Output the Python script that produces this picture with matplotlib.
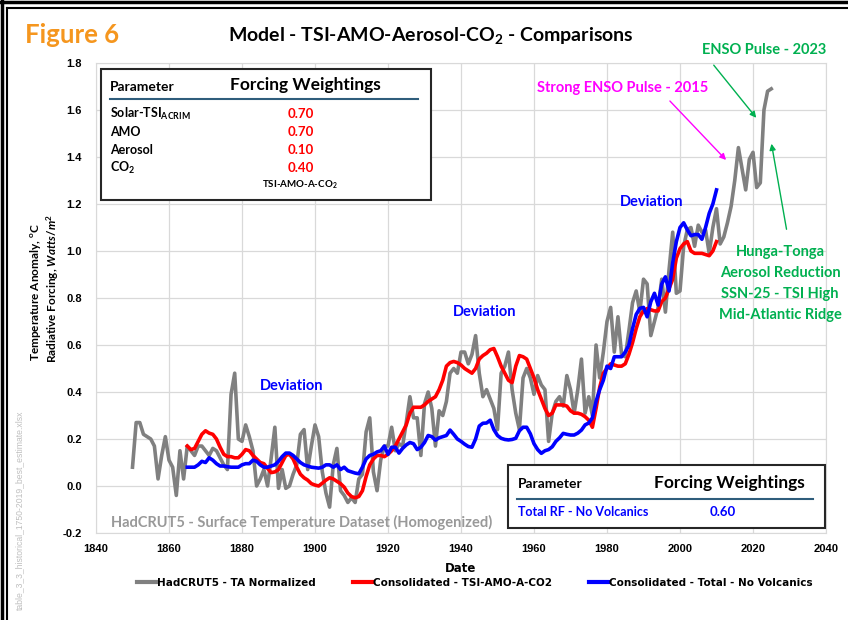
import numpy as np
import matplotlib.pyplot as plt
from matplotlib.patches import Rectangle, FancyArrowPatch
from matplotlib.lines import Line2D

plt.rcParams['mathtext.fontset'] = 'custom'
plt.rcParams['mathtext.rm'] = 'Lato:bold'
plt.rcParams['mathtext.bf'] = 'Lato:bold'
plt.rcParams['mathtext.it'] = 'Lato:bold:italic'

# HadCRUT5 - TA normalized, 1850-2025
hadcrut = [
    0.08, 0.27, 0.27, 0.22, 0.21, 0.20, 0.17, 0.03, 0.13, 0.21,
    0.11, 0.08, -0.04, 0.15, 0.03, 0.17, 0.15, 0.13, 0.17, 0.17,
    0.15, 0.13, 0.16, 0.15, 0.12, 0.09, 0.07, 0.39, 0.48, 0.20,
    0.19, 0.26, 0.21, 0.15, 0.00, 0.03, 0.07, 0.00, 0.12, 0.25,
    -0.01, 0.07, -0.01, 0.00, 0.05, 0.09, 0.22, 0.24, 0.07, 0.17,
    0.26, 0.21, 0.06, -0.03, -0.09, 0.09, 0.16, -0.02, -0.04, -0.07,
    -0.05, -0.07, 0.03, 0.05, 0.23, 0.29, 0.06, -0.02, 0.11, 0.17,
    0.17, 0.25, 0.15, 0.18, 0.17, 0.27, 0.38, 0.29, 0.29, 0.13,
    0.35, 0.40, 0.33, 0.17, 0.32, 0.30, 0.36, 0.48, 0.50, 0.48,
    0.57, 0.57, 0.52, 0.56, 0.64, 0.48, 0.38, 0.41, 0.37, 0.33,
    0.24, 0.48, 0.51, 0.57, 0.41, 0.31, 0.24, 0.46, 0.50, 0.46,
    0.39, 0.47, 0.43, 0.41, 0.19, 0.31, 0.36, 0.38, 0.34, 0.47,
    0.41, 0.31, 0.41, 0.54, 0.31, 0.38, 0.30, 0.60, 0.46, 0.57,
    0.70, 0.76, 0.57, 0.72, 0.56, 0.55, 0.66, 0.78, 0.83, 0.74,
    0.88, 0.86, 0.64, 0.70, 0.76, 0.88, 0.74, 0.92, 1.08, 0.82,
    0.83, 1.02, 1.09, 1.10, 1.02, 1.11, 1.08, 1.09, 0.99, 1.10,
    1.18, 1.03, 1.06, 1.12, 1.19, 1.30, 1.44, 1.35, 1.26, 1.39,
    1.42, 1.27, 1.29, 1.60, 1.68, 1.69,
]
hadcrut_years = np.arange(1850, 1850 + len(hadcrut))

# Consolidated - TSI-AMO-A-CO2, 1865-2010
tsi_amo = [
    0.17, 0.155, 0.16, 0.19, 0.22,
    0.235, 0.225, 0.22, 0.20, 0.165, 0.135, 0.125, 0.125, 0.12, 0.12,
    0.135, 0.155, 0.15, 0.13, 0.115, 0.10, 0.095, 0.075, 0.057, 0.06,
    0.07, 0.10, 0.13, 0.135, 0.115, 0.08, 0.05, 0.035, 0.025, 0.01,
    0.004, 0.0, 0.012, 0.025, 0.035, 0.03, 0.02, 0.01, -0.005, -0.03,
    -0.045, -0.05, -0.045, -0.02, 0.04, 0.09, 0.115, 0.13, 0.13, 0.125,
    0.135, 0.15, 0.17, 0.20, 0.23, 0.26, 0.31, 0.335, 0.335, 0.335,
    0.345, 0.36, 0.37, 0.38, 0.41, 0.45, 0.51, 0.525, 0.53, 0.525,
    0.515, 0.50, 0.49, 0.48, 0.50, 0.54, 0.555, 0.565, 0.58, 0.585,
    0.55, 0.51, 0.48, 0.45, 0.44, 0.51, 0.555, 0.55, 0.54, 0.50,
    0.46, 0.41, 0.37, 0.33, 0.30, 0.31, 0.345, 0.345, 0.345, 0.34,
    0.32, 0.31, 0.31, 0.305, 0.295, 0.28, 0.25, 0.33, 0.42, 0.48,
    0.50, 0.52, 0.515, 0.51, 0.51, 0.52, 0.56, 0.61, 0.67, 0.72,
    0.745, 0.755, 0.75, 0.745, 0.745, 0.785, 0.80, 0.84, 0.88, 0.97,
    1.01, 1.03, 1.04, 1.00, 0.99, 0.99, 0.99, 0.985, 0.98, 1.00,
    1.04,
]

# Consolidated - Total - No Volcanics, 1865-2010
total_rf = [
    0.08, 0.08, 0.08, 0.09, 0.105,
    0.10, 0.12, 0.11, 0.095, 0.085, 0.085, 0.082, 0.08, 0.08, 0.08,
    0.09, 0.095, 0.095, 0.11, 0.105, 0.09, 0.08, 0.08, 0.085, 0.09,
    0.105, 0.125, 0.14, 0.14, 0.13, 0.115, 0.10, 0.09, 0.085, 0.08,
    0.078, 0.076, 0.08, 0.09, 0.09, 0.08, 0.09, 0.07, 0.08, 0.065,
    0.06, 0.055, 0.052, 0.08, 0.115, 0.13, 0.135, 0.145, 0.15, 0.17,
    0.135, 0.165, 0.165, 0.14, 0.16, 0.175, 0.185, 0.18, 0.155, 0.165,
    0.185, 0.215, 0.21, 0.195, 0.205, 0.21, 0.215, 0.238, 0.22, 0.20,
    0.19, 0.178, 0.168, 0.165, 0.20, 0.255, 0.267, 0.268, 0.28, 0.24,
    0.215, 0.203, 0.198, 0.196, 0.198, 0.203, 0.235, 0.25, 0.25, 0.222,
    0.18, 0.155, 0.139, 0.15, 0.155, 0.167, 0.19, 0.205, 0.224, 0.22,
    0.217, 0.217, 0.225, 0.238, 0.26, 0.268, 0.29, 0.36, 0.41, 0.45,
    0.51, 0.50, 0.55, 0.55, 0.55, 0.57, 0.60, 0.67, 0.73, 0.756,
    0.76, 0.72, 0.784, 0.82, 0.77, 0.86, 0.89, 0.83, 0.95, 1.04,
    1.10, 1.12, 1.09, 1.065, 1.07, 1.07, 1.05, 1.10, 1.16, 1.20,
    1.26,
]
model_years = np.arange(1865, 1865 + len(tsi_amo))

series_labels = ['HadCRUT5 - TA Normalized', 'Consolidated - TSI-AMO-A-CO2',
                 'Consolidated - Total - No Volcanics']
params_top = ['Solar-TSI$_{\\mathrm{ACRIM}}$', 'AMO', 'Aerosol', 'CO$_{\\mathrm{2}}$']
weights_top = ['0.70', '0.70', '0.10', '0.40']

W, H = 848, 620
fig = plt.figure(figsize=(W / 100, H / 100), dpi=100)


def fx(x):
    return x / W


def fy(y):
    return 1 - y / H


def txt(x, y, s, **kw):
    kw.setdefault('family', 'Lato')
    kw.setdefault('fontweight', 'bold')
    kw.setdefault('va', 'center')
    return fig.text(fx(x), fy(y), s, **kw)


ax = fig.add_axes([fx(96), fy(533), 730 / W, 470 / H])
ax.plot(hadcrut_years, hadcrut, color='#808080', lw=2.6, zorder=2)
ax.plot(model_years, tsi_amo, color='#FF0000', lw=2.6, zorder=3)
ax.plot(model_years, total_rf, color='#0000FF', lw=2.6, zorder=4)

ax.set_xlim(1840, 2040)
ax.set_ylim(-0.2, 1.8)
ax.set_xticks(range(1840, 2041, 20))
ax.set_yticks(np.arange(-0.2, 1.81, 0.2))
ax.set_yticklabels(['%.1f' % v for v in np.arange(-0.2, 1.81, 0.2)])
ax.grid(color='#D9D9D9', lw=0.9)
ax.set_axisbelow(True)
for sp in ax.spines.values():
    sp.set_color('#D9D9D9')
ax.tick_params(axis='y', length=0, pad=10)
ax.tick_params(axis='x', length=0, pad=8)
for lab in ax.get_xticklabels() + ax.get_yticklabels():
    lab.set_family('Liberation Sans')
    lab.set_fontweight('bold')
    lab.set_fontsize(8)

# frame of the screenshot
fig.add_artist(Line2D([0, 1], [fy(1.5), fy(1.5)], color='black', lw=2.5))
fig.add_artist(Line2D([fx(7), 1], [fy(8), fy(8)], color='black', lw=1.5))
fig.add_artist(Line2D([fx(1.5), fx(1.5)], [0, 1], color='black', lw=2.5))
fig.add_artist(Line2D([fx(7), fx(7)], [0, fy(8)], color='black', lw=1.5))

# titles
txt(25, 35, 'Figure 6', color='#F5961E', fontsize=18.5)
txt(431, 35, 'Model - TSI-AMO-Aerosol-CO$_{\\mathrm{2}}$ - Comparisons', fontsize=14, ha='center')

# axis labels
txt(36, 292, 'Temperature Anomaly, $^{\\mathrm{o}}$C', fontsize=8.5, rotation=90, ha='center')
txt(53, 288, 'Radiative Forcing, $Watts/m^{2}$', fontsize=8.5, rotation=90, ha='center')
txt(461, 568, 'Date', fontsize=8.5, ha='center', family='Liberation Sans Narrow')
txt(20, 510, 'table_3_3_historical_1750-2019_best_estimate.xlsx', fontsize=6.2, rotation=90,
    ha='center', color='#BFBFBF', fontweight='normal', family='Liberation Sans')

# annotations
for x, y in [(292, 386), (485, 312), (652, 202)]:
    txt(x, y, 'Deviation', color='#0000FF', fontsize=10.5, ha='center')
txt(302, 522, 'HadCRUT5 - Surface Temperature Dataset (Homogenized)', color='#999999',
    fontsize=10.5, ha='center')
txt(623, 88, 'Strong ENSO Pulse - 2015', color='#FF00FF', fontsize=10.5, ha='center')
txt(764, 50, 'ENSO Pulse - 2023', color='#00B050', fontsize=10.5, ha='center')
for i, s in enumerate(['Hunga-Tonga', 'Aerosol Reduction', 'SSN-25 - TSI High', 'Mid-Atlantic Ridge']):
    txt(780, 252 + i * 21, s, color='#00B050', fontsize=10.5, ha='center')

for (x0, y0), (x1, y1), c in [((668, 99), (728, 162), '#FF00FF'),
                              ((712, 63), (758, 120), '#00B050'),
                              ((787, 232), (771, 141), '#00B050')]:
    fig.add_artist(FancyArrowPatch((fx(x0), fy(y0)), (fx(x1), fy(y1)), transform=fig.transFigure,
                                   arrowstyle='-|>', mutation_scale=9, lw=1, color=c))

# weightings table, top left
fig.add_artist(Rectangle((fx(101), fy(200)), 330 / W, 131 / H, transform=fig.transFigure,
                         facecolor='white', edgecolor='#262626', lw=1.5, zorder=5))
txt(110, 87, 'Parameter', fontsize=10, zorder=6)
txt(305, 85, 'Forcing Weightings', fontsize=12.5, ha='center', zorder=6)
fig.add_artist(Line2D([fx(110), fx(418)], [fy(98.5), fy(98.5)], color='#2F5D7C', lw=1.5, zorder=6))
for i, (p, w) in enumerate(zip(params_top, weights_top)):
    txt(110, 114 + i * 18, p, fontsize=9, zorder=6)
    txt(301, 114 + i * 18, w, fontsize=9.5, color='#FF0000', ha='center', zorder=6)
txt(300, 185, 'TSI-AMO-A-CO$_{\\mathrm{2}}$', fontsize=7, ha='center', zorder=6)

# weightings table, bottom right
fig.add_artist(Rectangle((fx(508), fy(528)), 317 / W, 63 / H, transform=fig.transFigure,
                         facecolor='white', edgecolor='#262626', lw=1.5, zorder=5))
txt(518, 484, 'Parameter', fontsize=10, zorder=6)
txt(729, 483, 'Forcing Weightings', fontsize=12.5, ha='center', zorder=6)
fig.add_artist(Line2D([fx(517), fx(813)], [fy(499), fy(499)], color='#2F5D7C', lw=1.5, zorder=6))
txt(518, 512, 'Total RF - No Volcanics', fontsize=9, color='#0000FF', zorder=6)
txt(723, 512, '0.60', fontsize=9.5, color='#0000FF', ha='center', zorder=6)

# legend
handles = [Line2D([], [], color=c, lw=3) for c in ['#808080', '#FF0000', '#0000FF']]
fig.legend(handles, series_labels, loc='center', bbox_to_anchor=(fx(475), fy(583)), ncol=3,
           frameon=False, handlelength=1.8, handletextpad=0.1, columnspacing=3.6,
           prop=dict(family='Liberation Sans Narrow', size=7.5, weight='bold'))

fig.savefig('out.png', dpi=100, facecolor='white')
